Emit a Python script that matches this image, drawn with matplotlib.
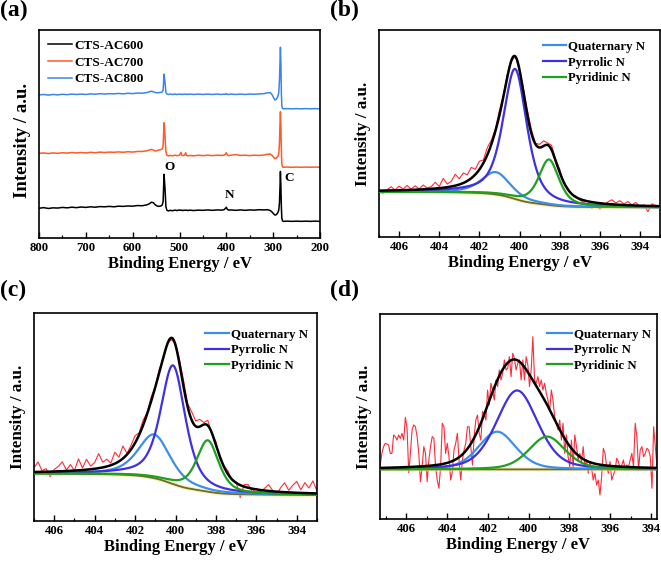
import numpy as np
import matplotlib
matplotlib.use("Agg")
import matplotlib.pyplot as plt
from matplotlib.ticker import MultipleLocator

plt.rcParams['font.family'] = ['Liberation Serif', 'DejaVu Serif']
plt.rcParams['font.weight'] = 'bold'
plt.rcParams['axes.labelweight'] = 'bold'

# ---------------- (a) survey spectra ----------------
survey_be = [800, 790, 780, 770, 760, 750, 740, 730, 720, 710, 700, 690, 680, 670, 660, 650,
             640, 630, 620, 610, 600, 590, 580, 570, 564, 560, 556, 552, 548, 544, 540, 537,
             535, 533, 531, 529, 527, 524, 520, 515, 510, 505, 500, 497, 495, 493, 489, 487,
             485, 482, 478, 470, 460, 450, 440, 430, 420, 410, 405, 402, 400, 398, 395, 390,
             380, 370, 360, 350, 340, 330, 320, 312, 306, 302, 299, 296, 293, 290, 288, 286.5,
             285.5, 284.5, 283.5, 282.5, 281.5, 280, 278, 270, 260, 250, 240, 230, 220, 210, 200]
ac600 = [14.3, 14.6, 14.2, 14.5, 14.4, 14.7, 14.5, 14.8, 14.6, 14.9, 14.7, 15.0, 14.8, 15.1, 15.0, 15.2,
         15.0, 15.3, 15.2, 15.4, 15.3, 15.6, 15.5, 15.9, 16.5, 17.2, 17.0, 16.0, 15.4, 15.2, 15.4, 15.8,
         17.5, 30.6, 24.0, 15.0, 13.4, 13.0, 13.3, 13.1, 13.4, 13.2, 13.5, 13.3, 13.4, 13.2, 13.4, 13.3,
         13.4, 13.2, 13.4, 13.2, 13.4, 13.3, 13.5, 13.3, 13.5, 13.4, 13.6, 14.2, 14.8, 13.8, 13.4, 13.5,
         13.3, 13.5, 13.3, 13.5, 13.4, 13.6, 13.5, 13.6, 13.2, 12.4, 11.6, 11.0, 11.3, 12.2, 13.5, 17.0,
         24.0, 32.0, 25.0, 15.0, 9.5, 8.2, 8.0, 8.1, 8.0, 8.1, 8.0, 8.1, 8.0, 8.1, 8.0]
ac700 = [40.7, 40.9, 40.6, 40.9, 40.7, 41.0, 40.8, 41.1, 40.9, 41.1, 40.9, 41.2, 41.0, 41.3, 41.1, 41.3,
         41.2, 41.4, 41.2, 41.5, 41.3, 41.6, 41.6, 41.9, 42.3, 42.6, 42.3, 41.8, 42.0, 42.3, 42.5, 42.8,
         44.5, 55.4, 49.0, 41.5, 39.8, 39.5, 39.7, 39.5, 39.8, 39.6, 39.8, 41.2, 39.8, 39.6, 39.8, 41.0,
         39.7, 39.5, 39.7, 39.5, 39.8, 39.6, 39.8, 39.6, 39.8, 39.7, 39.8, 40.3, 41.0, 40.0, 39.6, 39.8,
         40.1, 39.7, 39.8, 39.6, 39.8, 39.7, 39.9, 40.3, 40.4, 39.6, 38.8, 38.2, 38.5, 39.2, 40.5, 46.0,
         54.0, 60.7, 54.0, 42.0, 35.5, 34.2, 34.0, 34.1, 34.0, 34.1, 34.0, 34.1, 34.0, 34.1, 34.0]
ac800 = [68.8, 69.0, 68.7, 69.0, 68.8, 69.1, 68.9, 69.2, 69.0, 69.2, 69.0, 69.3, 69.1, 69.4, 69.2, 69.4,
         69.3, 69.5, 69.3, 69.6, 69.4, 69.7, 69.6, 69.9, 70.3, 70.6, 70.3, 70.0, 69.8, 69.9, 70.0, 70.2,
         71.0, 78.8, 75.0, 70.0, 69.2, 69.0, 69.2, 69.0, 69.2, 69.0, 69.2, 69.0, 69.2, 69.0, 69.2, 69.0,
         69.2, 69.0, 69.2, 69.0, 69.2, 69.0, 69.2, 69.0, 69.2, 69.0, 69.2, 69.0, 69.4, 69.1, 69.0, 69.2,
         69.0, 69.2, 69.0, 69.2, 69.1, 69.3, 69.4, 69.8, 69.9, 68.8, 67.4, 66.3, 66.8, 68.0, 70.0, 76.0,
         84.0, 91.7, 84.0, 70.0, 63.5, 62.3, 62.1, 62.2, 62.1, 62.2, 62.1, 62.2, 62.1, 62.2, 62.1]
survey_labels = ["CTS-AC600", "CTS-AC700", "CTS-AC800"]
survey_colors = ["#000000", "#FF5A28", "#3A86E8"]
peak_marks = ["O", "N", "C"]
peak_mark_be = [522, 394, 266]
peak_mark_y = [34.0, 20.7, 28.8]

# ---------------- N 1s fits ----------------
component_names = ["Quaternary N", "Pyrrolic N", "Pyridinic N"]
component_colors = ["#3D8EE8", "#4030E0", "#1FA01F"]

b_centers = [401.18, 400.22, 398.53]
b_heights = [10.8, 62.8, 22.0]
b_fwhm = [1.7, 1.4, 1.2]
b_eta = 0.6
b_bg = [21.8, 14.3]      # high-BE side, low-BE side
b_xlim = [407.0, 393.0]

c_centers = [401.05, 400.12, 398.4]
c_heights = [21.0, 57.0, 24.7]
c_fwhm = [1.9, 1.45, 1.3]
c_eta = 0.6
c_bg = [22.8, 12.5]
c_xlim = [407.0, 393.0]

d_centers = [401.55, 400.57, 399.1]
d_heights = [18.4, 38.5, 16.0]
d_fwhm = [2.15, 2.4, 2.1]
d_eta = 0.35
d_bg = [24.2, 24.2]
d_xlim = [407.3, 393.7]

# raw spectra: (b),(c) as deviations from the fit envelope on a 0.2 eV grid
raw_step_be = [407.0 - 0.2 * i for i in range(71)]
b_resid = [-0.5, -1.5, 0.3, 1.8, 0.2, 2.0, 0.5, 2.2, 0.4, 1.9, 0.3, 2.1, 0.6, 1.0, 3.0, 0.8,
           4.5, 1.5, 2.5, 5.5, 2.8, 4.8, 3.0, 5.2, 2.5, 4.0, 1.5, 3.5, 2.0, 1.0, 2.5, 0.5,
           1.2, -0.5, 0.5, -1.0, 1.5, 2.5, 1.8, 0.5, 1.5, 2.5, 1.0, 2.2, 0.5, 1.5, -0.5, 0.8,
           -0.3, 0.5, -0.5, -1.0, -2.0, -3.0, -1.5, -2.8, -1.0, 1.0, 2.2, 0.8, 2.0, 0.5, 1.8,
           0.3, 1.5, -0.5, 0.5, -2.8, 1.0, 0.3, -0.5]
c_resid = [2.0, 4.8, 0.5, 1.5, -2.4, 1.0, 2.4, 4.5, 0.5, 3.0, 0.0, 5.5, 1.0, 5.0, 1.5, 3.0,
           7.0, 2.5, 3.5, 1.0, 5.5, 2.0, 6.0, 0.5, 2.0, 3.5, 1.0, 2.5, 0.5, 2.0, 0.0, 1.5,
           -0.5, 0.5, -1.0, 1.0, 2.0, 3.0, 1.5, 4.0, 2.5, 3.5, 1.0, 2.5, -0.5, 1.5, -1.0, 0.5,
           1.5, -0.5, 0.5, -6.0, 1.0, 1.5, -1.5, 0.5, -1.0, 1.0, 3.0, 0.5, -1.5, 2.0, 4.5,
           1.0, 3.5, 5.5, 1.5, 5.0, 2.5, 6.0, 1.0]
# raw spectrum (d), direct intensities
d_raw_start, d_raw_stop = 407.29, 393.7
d_raw = [26.3, 32.0, 35.3, 36.9, 36.6, 36.1, 32.0, 32.0, 41.0, 40.2, 38.5, 41.0, 39.3, 41.8, 38.5, 49.6,
         44.2, 22.6, 32.0, 43.4, 45.9, 45.0, 40.2, 32.0, 18.2, 25.5, 35.3, 32.0, 18.2, 28.8, 35.3, 40.2,
         39.3, 25.5, 19.0, 15.0, 25.5, 46.7, 45.0, 32.0, 36.9, 30.4, 19.0, 23.1, 33.7, 36.9, 41.8, 28.8,
         19.0, 28.8, 33.7, 36.9, 45.0, 45.0, 35.3, 26.3, 40.2, 48.3, 50.7, 41.8, 38.5, 52.4, 51.5, 48.3,
         62.9, 55.6, 66.2, 62.9, 58.0, 67.8, 64.6, 72.7, 67.8, 71.1, 77.6, 72.7, 73.5, 79.2, 69.4, 80.8,
         78.4, 72.7, 75.9, 77.6, 67.8, 77.6, 67.8, 79.2, 75.1, 64.6, 72.7, 88.9, 67.8, 66.2, 69.4, 64.6,
         67.8, 62.9, 66.2, 61.3, 58.0, 52.4, 62.9, 58.0, 49.9, 46.7, 43.4, 48.3, 38.5, 46.7, 32.0, 41.0,
         30.4, 25.5, 38.5, 25.5, 41.0, 35.3, 28.8, 32.0, 28.0, 35.3, 25.5, 28.8, 22.3, 28.0, 24.7, 19.0,
         22.3, 16.6, 19.0, 11.7, 20.7, 34.5, 32.0, 25.5, 22.3, 28.0, 19.0, 21.5, 23.9, 29.6, 28.0, 24.7,
         26.3, 28.8, 23.9, 26.3, 25.5, 28.8, 32.0, 25.5, 46.7, 40.2, 23.9, 33.7, 35.3, 30.4, 32.0, 34.5,
         33.7, 30.4, 15.0, 45.0, 35.3, 25.5]


def pvoigt(x, c, h, w, eta):
    g = np.exp(-4 * np.log(2) * ((x - c) / w) ** 2)
    l = 1.0 / (1.0 + (2 * (x - c) / w) ** 2)
    return h * (eta * l + (1 - eta) * g)


def fit_model(centers, heights, fwhm, eta, bg, xlim):
    x = np.linspace(min(xlim) - 0.5, max(xlim) + 0.5, 1500)   # ascending BE
    comps = [pvoigt(x, c, h, w, eta) for c, h, w in zip(centers, heights, fwhm)]
    total = np.sum(comps, axis=0)
    cum = np.concatenate([[0], np.cumsum(0.5 * (total[1:] + total[:-1]) * np.diff(x))])
    shirley = bg[1] + (bg[0] - bg[1]) * cum / cum[-1]
    return x, comps, shirley, shirley + total


fig = plt.figure(figsize=(6.61, 5.62), dpi=100)
W, H = 661.0, 562.0


def add_ax(l, t, r, b):
    return fig.add_axes([l / W, 1 - b / H, (r - l) / W, (b - t) / H])


def style(ax, xlim, major, minor, ylab_size=12.3):
    ax.set_xlim(*xlim)
    ax.set_ylim(0, 100)
    ax.set_yticks([])
    ax.xaxis.set_major_locator(MultipleLocator(major))
    ax.xaxis.set_minor_locator(MultipleLocator(minor))
    ax.tick_params(axis='x', which='major', direction='in', length=4, width=1.0,
                   labelsize=9.2, pad=3, top=False)
    ax.tick_params(axis='x', which='minor', direction='in', length=2.5, width=0.9, top=False)
    for lab in ax.get_xticklabels():
        lab.set_fontweight('bold')
    for s in ax.spines.values():
        s.set_linewidth(1.2)
    ax.set_xlabel("Binding Energy / eV", fontsize=12, labelpad=1)
    ax.set_ylabel("Intensity / a.u.", fontsize=ylab_size, labelpad=6)


# (a)
axa = add_ax(39, 30, 320, 238)
for vals, lab, col in zip([ac600, ac700, ac800], survey_labels, survey_colors):
    axa.plot(survey_be, vals, color=col, lw=1.1, label=lab)
for m, xb, yb in zip(peak_marks, peak_mark_be, peak_mark_y):
    axa.text(xb, yb, m, ha='center', va='center', fontsize=9.5, fontweight='bold')
style(axa, (800, 200), 100, 50, ylab_size=13.5)
axa.yaxis.label.set_position((0, 0.47))
axa.legend(loc='upper left', bbox_to_anchor=(0.007, 0.985), frameon=False,
           handlelength=1.85, handletextpad=0.2, labelspacing=0.33, borderpad=0,
           prop={'weight': 'bold', 'size': 9.5})


def nplot(ax, centers, heights, fwhm, eta, bg, xlim, raw_x, raw_y, leg_anchor, hl):
    x, comps, shirley, env = fit_model(centers, heights, fwhm, eta, bg, xlim)
    ax.plot(raw_x, raw_y, color="#FF2A3A", lw=0.8, zorder=1)
    ax.plot(x, shirley, color="#F2E88A", lw=3.0, alpha=0.6, zorder=2)
    ax.plot(x, shirley, color="#6E6A28", lw=1.3, zorder=3)
    handles = []
    for comp, name, col in zip(comps, component_names, component_colors):
        h, = ax.plot(x, shirley + comp, color=col, lw=1.6, label=name, zorder=4)
        handles.append(h)
    ax.plot(x, env, color="black", lw=1.8, zorder=5)
    style(ax, xlim, 2, 1)
    ax.legend(handles=handles, loc='upper left', bbox_to_anchor=leg_anchor, frameon=False,
              handlelength=hl, handletextpad=0.2, labelspacing=0.28, borderpad=0,
              prop={'weight': 'bold', 'size': 9.2})


def raw_from_resid(centers, heights, fwhm, eta, bg, xlim, resid):
    x, comps, shirley, env = fit_model(centers, heights, fwhm, eta, bg, xlim)
    be = np.array(raw_step_be)
    return be, np.interp(be, x, env) + np.array(resid)


# (b)
axb = add_ax(379, 30, 660, 237)
rx, ry = raw_from_resid(b_centers, b_heights, b_fwhm, b_eta, b_bg, b_xlim, b_resid)
nplot(axb, b_centers, b_heights, b_fwhm, b_eta, b_bg, b_xlim, rx, ry, (0.562, 0.978), 1.75)

# (c)
axc = add_ax(34, 313, 317, 521)
rx, ry = raw_from_resid(c_centers, c_heights, c_fwhm, c_eta, c_bg, c_xlim, c_resid)
nplot(axc, c_centers, c_heights, c_fwhm, c_eta, c_bg, c_xlim, rx, ry, (0.58, 0.956), 1.9)

# (d)
axd = add_ax(380, 314, 657, 519)
dx = np.linspace(d_raw_start, d_raw_stop, len(d_raw))
nplot(axd, d_centers, d_heights, d_fwhm, d_eta, d_bg, d_xlim, dx, d_raw, (0.581, 0.96), 1.9)

for lab, (px, py) in zip(["(a)", "(b)", "(c)", "(d)"], [(0, 0), (330, 0), (0, 280), (330, 280)]):
    fig.text(px / W, 1 - py / H, lab, ha='left', va='top', fontsize=17, fontweight='bold')

fig.savefig("out.png", dpi=100)
